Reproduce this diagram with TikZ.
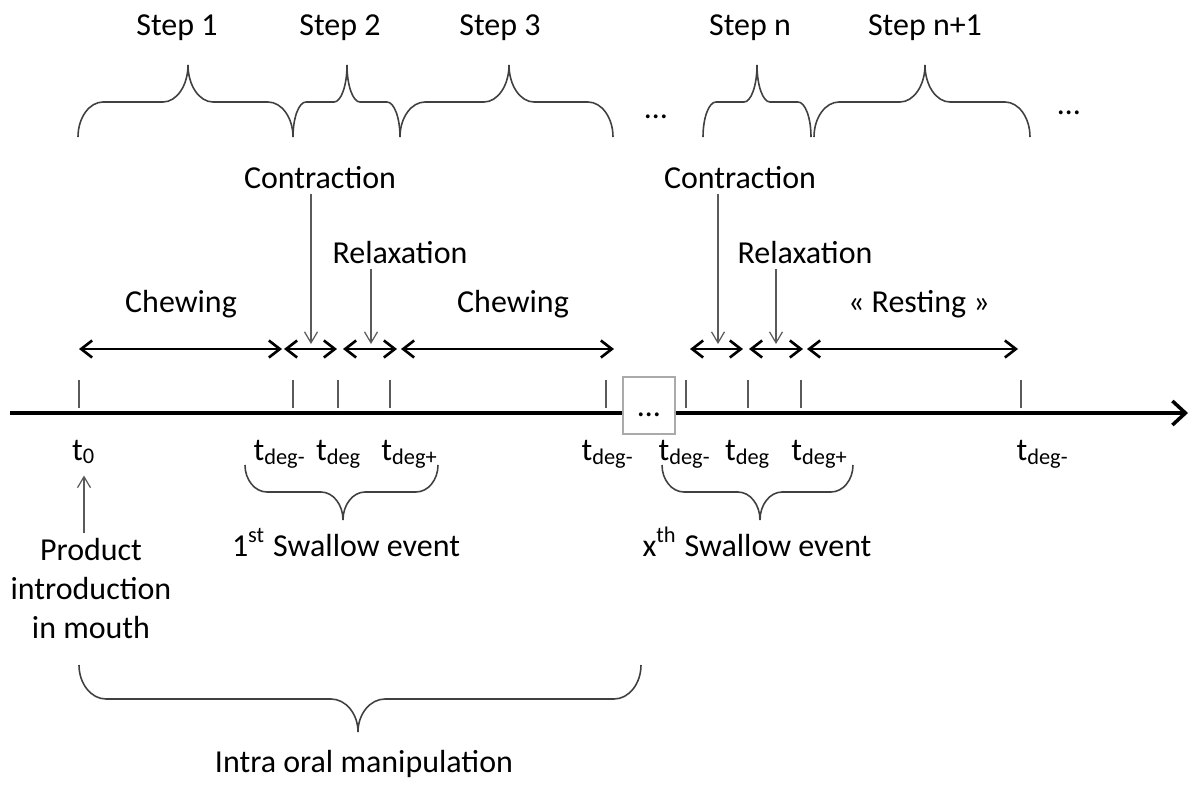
\documentclass[tikz,border=0pt]{standalone}
\usepackage{fontspec}
\setmainfont{Carlito}
\usetikzlibrary{arrows.meta,calc}

% curly brace: x left, x right, x tip, y ends, y flat part, y tip, curl size
\newcommand{\curlybrace}[7]{%
  \draw[bracestyle] (#1,#4) .. controls (#1,{(#4)+0.55*((#5)-(#4))}) and ({#1+0.45*#7},#5) .. ({#1+#7},#5)
    -- ({#3-#7},#5) .. controls ({#3-0.45*#7},#5) and (#3,{(#5)+0.45*((#6)-(#5))}) .. (#3,#6)
    .. controls (#3,{(#5)+0.45*((#6)-(#5))}) and ({#3+0.45*#7},#5) .. ({#3+#7},#5)
    -- ({#2-#7},#5) .. controls ({#2-0.45*#7},#5) and (#2,{(#4)+0.55*((#5)-(#4))}) .. (#2,#4);
}

\begin{document}
\begin{tikzpicture}[
    lbl/.style={font=\fontsize{9.1}{11.1}\selectfont, inner sep=0.5mm},
    dblarrow/.style={{Straight Barb[length=1.1mm,width=1.7mm]}-{Straight Barb[length=1.1mm,width=1.7mm]}, line width=0.75pt},
    ptr/.style={-{Straight Barb[length=1.1mm,width=1.3mm]}, line width=0.35pt, draw=linegray},
    tickmark/.style={line width=0.45pt, draw=linegray},
    bracestyle/.style={line width=0.45pt, draw=bracegray}]
		% Colors of the original figure
		\definecolor{linegray}{RGB}{90, 90, 90}
		\definecolor{bracegray}{RGB}{64, 64, 64}
		\definecolor{boxgray}{RGB}{170, 170, 170}
		
		\useasboundingbox (0,-3.74) rectangle (11.92,4.13);
		
		% --- Time axis ---
		\draw[line width=1pt, -{Straight Barb[length=1.3mm,width=2.4mm]}] (0.10,0) -- (11.88,0);
		\foreach \x in {0.79, 2.93, 3.38, 3.90, 6.06, 6.86, 7.48, 8.01, 10.21}
			\draw[tickmark] (\x,0.05) -- (\x,0.33);
		
		% Gap in the axis
		\draw[draw=boxgray, fill=white, line width=0.5pt] (6.23,-0.21) rectangle (6.75,0.36);
		\node[lbl, anchor=base] (gapdots) at (6.49,-0.03) {\ldots};
		
		% --- Time labels ---
		\node[lbl, anchor=base] (t0) at (0.84,-0.47) {t\textsubscript{0}};
		\foreach \x/\s/\n in {2.80/deg-/ta, 3.39/deg/tb, 4.10/deg+/tc, 6.08/deg-/td,
		                      6.85/deg-/te, 7.48/deg/tf, 8.20/deg+/tg, 10.43/deg-/th}
			\node[lbl, anchor=base] (\n) at (\x,-0.47) {t\textsubscript{\s}};
		
		% Product introduction
		\node[lbl, align=center, anchor=north] (prod) at (0.91,-1.20) {Product\\introduction\\in mouth};
		\draw[ptr, shorten >=0.6mm] (prod.north -| t0.south) -- (t0.south);
		
		% --- Swallow events ---
		\curlybrace{2.45}{4.38}{3.43}{-0.52}{-0.79}{-1.07}{0.22}
		\curlybrace{6.62}{8.53}{7.60}{-0.52}{-0.79}{-1.07}{0.22}
		\node[lbl, anchor=base] (sw1) at (3.46,-1.43) {1\textsuperscript{st} Swallow event};
		\node[lbl, anchor=base] (swx) at (7.57,-1.43) {x\textsuperscript{th} Swallow event};
		
		% --- Intra oral manipulation ---
		\curlybrace{0.79}{6.41}{3.58}{-2.52}{-2.86}{-3.19}{0.27}
		\node[lbl, anchor=base] (iom) at (3.64,-3.59) {Intra oral manipulation};
		
		% --- Phases ---
		\draw[dblarrow] (0.79,0.64) -- (2.82,0.64);
		\draw[dblarrow] (2.84,0.64) -- (3.37,0.64);
		\draw[dblarrow] (3.43,0.64) -- (3.97,0.64);
		\draw[dblarrow] (4.01,0.64) -- (6.14,0.64);
		\draw[dblarrow] (6.90,0.64) -- (7.43,0.64);
		\draw[dblarrow] (7.49,0.64) -- (8.03,0.64);
		\draw[dblarrow] (8.07,0.64) -- (10.18,0.64);
		
		\node[lbl, anchor=base] (chew1) at (1.81,1.01) {Chewing};
		\node[lbl, anchor=base] (chew2) at (5.13,1.01) {Chewing};
		\node[lbl, anchor=base] (rest) at (9.19,1.01) {« Resting »};
		
		\node[lbl, anchor=base] (con1) at (3.20,2.25) {Contraction};
		\node[lbl, anchor=base] (con2) at (7.40,2.25) {Contraction};
		\node[lbl, anchor=base] (rel1) at (4.00,1.50) {Relaxation};
		\node[lbl, anchor=base] (rel2) at (8.05,1.50) {Relaxation};
		
		\coordinate (ca1) at (3.11,0.69);
		\coordinate (ca2) at (7.18,0.69);
		\coordinate (ra1) at (3.71,0.69);
		\coordinate (ra2) at (7.76,0.69);
		\draw[ptr] (ca1 |- con1.south) -- (ca1);
		\draw[ptr] (ca2 |- con2.south) -- (ca2);
		\draw[ptr] (ra1 |- rel1.south) -- (ra1);
		\draw[ptr] (ra2 |- rel2.south) -- (ra2);
		
		% --- Steps ---
		\curlybrace{0.78}{2.93}{1.88}{2.76}{3.11}{3.48}{0.25}
		\curlybrace{2.93}{4.00}{3.47}{2.76}{3.11}{3.48}{0.13}
		\curlybrace{4.00}{6.13}{5.09}{2.76}{3.11}{3.48}{0.25}
		\curlybrace{7.03}{8.11}{7.57}{2.76}{3.11}{3.48}{0.13}
		\curlybrace{8.14}{10.30}{9.25}{2.76}{3.11}{3.48}{0.25}
		
		\node[lbl, anchor=base] (step1) at (1.77,3.78) {Step 1};
		\node[lbl, anchor=base] (step2) at (3.40,3.78) {Step 2};
		\node[lbl, anchor=base] (step3) at (5.00,3.78) {Step 3};
		\node[lbl, anchor=base] (stepn) at (7.50,3.78) {Step n};
		\node[lbl, anchor=base] (stepm) at (9.25,3.78) {Step n+1};
		
		\node[lbl] (more1) at (6.56,2.96) {\ldots};
		\node[lbl] (more2) at (10.69,3.00) {\ldots};
		
	\end{tikzpicture}
\end{document}
